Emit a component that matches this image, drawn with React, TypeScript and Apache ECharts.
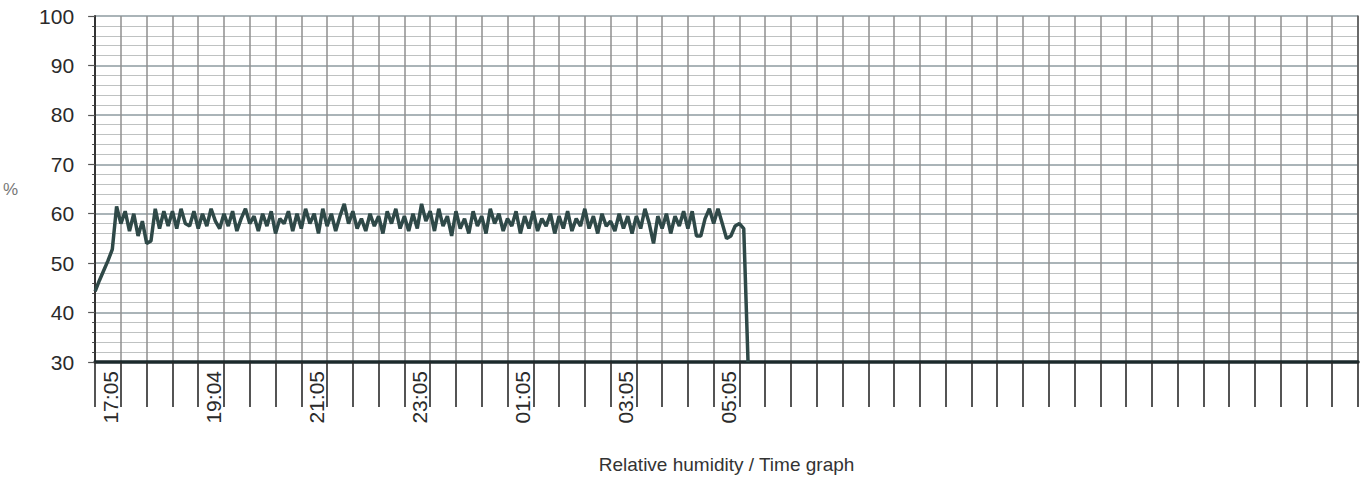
import React, { useEffect, useRef } from "react";
import * as echarts from "echarts";

// Relative humidity samples (%), one every 5 minutes starting 16:35
const sampleStepMinutes = 5;
const humidity = [
  44.3, 46.5, 48.5, 50.5, 52.8, 61.5, 58, 60.5, 56.5, 60, 55.5, 58.5, 54, 54.5, 61, 57, 60.5, 57.5, 60.5, 57,
  61, 58, 57.5, 60.5, 57, 60, 57.5, 61, 58.5, 57,
  60, 57.5, 60.5, 56.5, 59, 61, 58, 59.5, 56.5, 60, 57.5, 60.5, 56, 59, 58, 60.5, 56.5, 60, 57, 61, 58, 60, 56, 61,
  57.5, 60, 56.5, 59.5, 62, 58, 60.5, 57, 59, 56.5, 60, 57.5, 59.5, 56, 60.5, 58, 61, 57, 59.5, 56.5, 60, 57, 62, 58.5,
  60.5, 56.5, 61, 57.5, 59.5, 55.5, 60.5, 57, 59, 56, 60.5, 57.5, 59.5, 56, 61, 58, 60, 56.5, 59, 57.5, 60.5, 56, 59.5, 57,
  60.5, 56.5, 59, 57.5, 60, 56, 59.5, 57, 60.5, 56.5, 59, 57.5, 61, 57, 59.5, 56, 60, 57.5, 58.5, 56.5, 60, 57, 59.5, 56,
  59.5, 57, 61, 58, 54, 59.5, 57, 60, 56, 59.5, 57.5, 60.5, 57, 60.5, 55.5, 55.5, 59, 61, 58, 61, 58, 55, 55.5, 57.5, 58,
  57, 30,
];

// Time axis: minutes from 16:35, grid every 30 minutes
const axisMaxMinutes = 1470;
const gridStepMinutes = 30;
const firstLabelMinute = 30;
const labelEveryMinutes = 120;
const timeLabels = ["17:05", "19:04", "21:05", "23:05", "01:05", "03:05", "05:05"];

const yMin = 30;
const yMax = 100;
const yStep = 10;

const FONT = "'Liberation Sans', Arial, sans-serif";
const W = 1367;
const H = 479;

export default function App() {
  const ref = useRef<HTMLDivElement>(null);

  useEffect(() => {
    if (!ref.current) return;
    const chart = echarts.init(ref.current, null, { renderer: "svg", width: W, height: H });
    const data = humidity.map((v, i) => [i * sampleStepMinutes, v]);
    chart.setOption({
      animation: false,
      backgroundColor: "#ffffff",
      grid: { left: 93, right: 9, top: 16, bottom: 116, containLabel: false },
      xAxis: {
        type: "value",
        min: 0,
        max: axisMaxMinutes,
        interval: gridStepMinutes,
        name: "Relative humidity / Time graph",
        nameLocation: "middle",
        nameGap: 93,
        nameTextStyle: { fontFamily: FONT, fontSize: 19, color: "#333" },
        axisLine: { show: true, onZero: false, lineStyle: { color: "#1c2a2c", width: 3.5 } },
        axisTick: { show: true, length: 45, lineStyle: { color: "#2a2a2a", width: 1.6 } },
        splitLine: { show: true, lineStyle: { color: "#8f8f8f", width: 1.5 } },
        axisLabel: {
          show: true,
          rotate: 90,
          margin: 9,
          verticalAlign: "bottom",
          fontFamily: FONT,
          fontSize: 21,
          color: "#2a2a2a",
          showMinLabel: true,
          showMaxLabel: true,
          formatter: (v: number) => {
            const k = (v - firstLabelMinute) / labelEveryMinutes;
            if (Number.isInteger(k) && k >= 0 && k < timeLabels.length) return timeLabels[k];
            return "";
          },
        },
      },
      yAxis: [
        {
          type: "value",
          min: yMin,
          max: yMax,
          interval: yStep,
          name: "%",
          nameLocation: "middle",
          nameGap: 77,
          nameRotate: 0,
          nameTextStyle: { fontFamily: FONT, fontSize: 17, color: "#777" },
          axisLine: { show: true, lineStyle: { color: "#333", width: 2 } },
          axisTick: { show: true, length: 7, lineStyle: { color: "#555", width: 1.2 } },
          minorTick: { show: true, splitNumber: 5, length: 3, lineStyle: { color: "#444", width: 1 } },
          splitLine: { show: true, lineStyle: { color: "#8e9ba1", width: 1.5 } },
          minorSplitLine: { show: true, lineStyle: { color: "#bfc2c2", width: 1.1 } },
          axisLabel: { margin: 21, fontFamily: FONT, fontSize: 21, color: "#2a2a2a" },
        },
        {
          type: "value",
          position: "right",
          min: yMin,
          max: yMax,
          interval: yStep,
          axisLine: { show: true, lineStyle: { color: "#555", width: 1.5 } },
          axisTick: { show: false },
          axisLabel: { show: false },
          splitLine: { show: false },
        },
      ],
      series: [
        {
          type: "line",
          data,
          showSymbol: false,
          symbol: "none",
          clip: true,
          lineStyle: { color: "#2f4948", width: 3.5 },
          itemStyle: { color: "#2f4948" },
        },
      ],
    });
    return () => chart.dispose();
  }, []);

  return (
    <div
      ref={ref}
      style={{ position: "fixed", left: 0, top: 0, width: W, height: H, background: "#fff" }}
    />
  );
}
